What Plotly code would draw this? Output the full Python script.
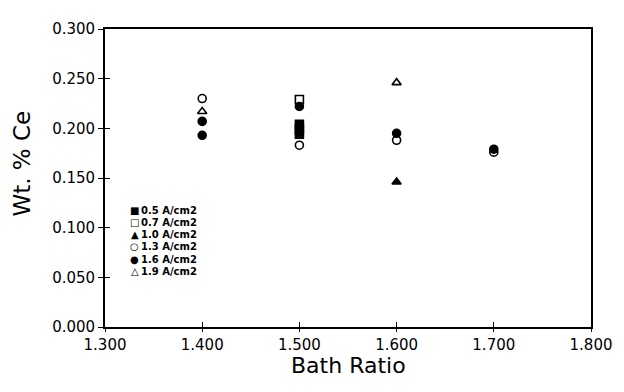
import plotly.graph_objects as go

# ---- data ----
series_names = ["0.5 A/cm2", "0.7 A/cm2", "1.0 A/cm2", "1.3 A/cm2", "1.6 A/cm2", "1.9 A/cm2"]
x_05 = [1.5, 1.5, 1.5]
y_05 = [0.204, 0.199, 0.194]
x_07 = [1.5]
y_07 = [0.229]
x_10 = [1.6]
y_10 = [0.146]
x_13 = [1.4, 1.5, 1.6, 1.7]
y_13 = [0.230, 0.183, 0.188, 0.176]
x_16 = [1.4, 1.4, 1.5, 1.6, 1.7]
y_16 = [0.207, 0.193, 0.222, 0.195, 0.179]
x_19 = [1.4, 1.6]
y_19 = [0.217, 0.246]

x_ticks = [1.3, 1.4, 1.5, 1.6, 1.7, 1.8]
y_ticks = [0.0, 0.05, 0.10, 0.15, 0.20, 0.25, 0.30]
x_title = "Bath Ratio"
y_title = "Wt. % Ce"

symbols = ["square", "square-open", "triangle-up", "circle-open", "circle", "triangle-up-open"]
glyphs = ["\u25A0", "\u25A1", "\u25B2", "\u25CB", "\u25CF", "\u25B3"]

xs = [x_05, x_07, x_10, x_13, x_16, x_19]
ys = [y_05, y_07, y_10, y_13, y_16, y_19]

FONT = "DejaVu Sans"
fig = go.Figure()
for name, sx, sy, sym in zip(series_names, xs, ys, symbols):
    fig.add_trace(go.Scatter(
        x=sx, y=sy, mode="markers", name=name, showlegend=False,
        marker=dict(symbol=sym, size=8, color="black",
                    line=dict(color="black", width=1.6)),
    ))

# invisible trace so that the overlay axes (inner halves of the ticks) are drawn
fig.add_trace(go.Scatter(x=[x_ticks[0]], y=[y_ticks[0]], xaxis="x2", yaxis="y2",
                         mode="markers", marker=dict(opacity=0), showlegend=False,
                         hoverinfo="skip"))

xr = [x_ticks[0], x_ticks[-1]]
yr = [y_ticks[0], y_ticks[-1]]
tickfont = dict(family=FONT, size=15, color="black")

# page body adds an 8px offset; figure sized so it fits the 624x392 window
fig.update_layout(
    width=616, height=384,
    margin=dict(l=97, r=28, t=14, b=65),
    paper_bgcolor="white", plot_bgcolor="white",
    xaxis=dict(range=xr, tickvals=x_ticks, tickformat=".3f", ticks="outside",
               ticklen=3, tickwidth=1.3, tickcolor="black",
               showline=True, linecolor="black", linewidth=1.8, mirror=True,
               showgrid=False, zeroline=False, tickfont=tickfont,
               ticklabeloverflow="allow"),
    yaxis=dict(range=yr, tickvals=y_ticks, tickformat=".3f", ticks="outside",
               ticklen=5, tickwidth=1.3, tickcolor="black",
               showline=True, linecolor="black", linewidth=1.8, mirror=True,
               showgrid=False, zeroline=False, tickfont=tickfont,
               ticklabeloverflow="allow"),
    xaxis2=dict(range=xr, tickvals=x_ticks, overlaying="x", side="bottom",
                ticks="inside", ticklen=5, tickwidth=1.3, tickcolor="black",
                showticklabels=False, showline=False, showgrid=False, zeroline=False),
    yaxis2=dict(range=yr, tickvals=y_ticks, overlaying="y", side="left",
                ticks="inside", ticklen=5, tickwidth=1.3, tickcolor="black",
                showticklabels=False, showline=False, showgrid=False, zeroline=False),
)

# axis titles as annotations for exact placement
fig.add_annotation(x=0.5, y=-0.128, xref="paper", yref="paper", text=x_title,
                   showarrow=False, xanchor="center", yanchor="middle",
                   font=dict(family=FONT, size=22, color="black"))
fig.add_annotation(x=-0.171, y=0.548, xref="paper", yref="paper", text=y_title,
                   textangle=-90, showarrow=False, xanchor="center", yanchor="middle",
                   font=dict(family=FONT, size=23, color="black"))

# manual legend (compact rows as in the original)
leg_x_marker = 0.061
leg_x_text = 0.073
leg_y_top = 0.39
leg_step = 0.0405
for i, (g, name) in enumerate(zip(glyphs, series_names)):
    yy = leg_y_top - i * leg_step
    fig.add_annotation(x=leg_x_marker, y=yy, xref="paper", yref="paper",
                       text=g, showarrow=False, xanchor="center", yanchor="middle",
                       borderpad=0, font=dict(family=FONT, size=10, color="black"))
    fig.add_annotation(x=leg_x_text, y=yy, xref="paper", yref="paper",
                       text="<b>" + name + "</b>", showarrow=False, xanchor="left",
                       yanchor="middle", borderpad=0,
                       font=dict(family=FONT, size=10, color="black"))

fig.write_html("out.html")
